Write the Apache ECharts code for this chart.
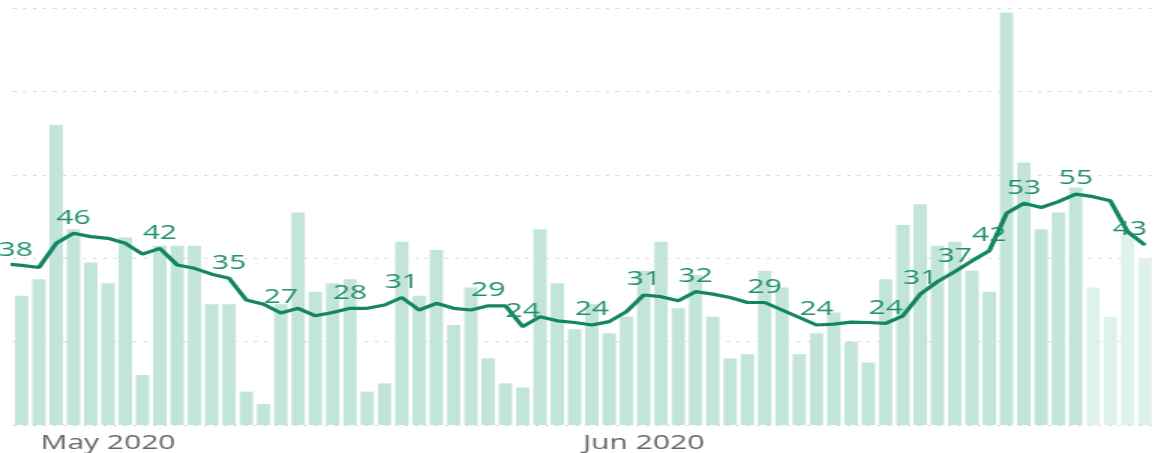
<!DOCTYPE html>
<html>
<head>
<meta charset="utf-8">
<script src="https://cdn.jsdelivr.net/npm/echarts@6/dist/echarts.min.js"></script>
<style>
    html, body { margin: 0; padding: 0; background: #fff; overflow: hidden; }
    /* the reference is stretched sideways, so the chart is drawn narrow and widened */
    #chart { width: 769.33px; height: 453px; transform: scaleX(1.5); transform-origin: 0 0; }
</style>
</head>
<body>
<div id="chart"></div>
<script>
// days shown, 25 Apr 2020 .. 30 Jun 2020 (first one is only reached by the line)
var days = [];
(function () {
    var d = new Date(2020, 3, 25);
    for (var i = 0; i < 67; i++) {
        days.push(d.getFullYear() + '-' + (d.getMonth() + 1) + '-' + d.getDate());
        d.setDate(d.getDate() + 1);
    }
})();

// daily counts
var daily = [null,
    31, 35, 72, 47, 39, 34, 45, 12, 43, 43,
    43, 29, 29, 8, 5, 29, 51, 32, 34, 35,
    8, 10, 44, 31, 42, 24, 33, 16, 10, 9,
    47, 34, 23, 29, 22, 26, 37, 44, 28, 36,
    26, 16, 17, 37, 33, 17, 22, 27, 20, 15,
    35, 48, 53, 43, 44, 37, 32, 99, 63, 47,
    51, 57, 33, 26, 46, 40];

// 7 day average as drawn
var average = [38.7,
    38.3, 37.8, 43.6, 46.0, 45.2, 44.8, 43.6, 41.0, 42.4, 38.4,
    37.6, 36.2, 35.2, 30.0, 29.0, 26.9, 28.0, 26.2, 27.0, 28.0,
    28.0, 28.8, 30.6, 27.6, 29.2, 28.0, 27.6, 28.6, 28.6, 23.6,
    26.0, 25.0, 24.6, 24.0, 24.8, 27.2, 31.2, 30.8, 29.8, 32.0,
    31.4, 30.6, 29.4, 29.4, 27.6, 25.8, 24.0, 24.2, 24.7, 24.6,
    24.4, 26.2, 31.4, 34.4, 36.8, 39.4, 41.8, 50.8, 53.2, 52.2,
    53.6, 55.4, 54.8, 53.8, 46.4, 43.2];

// points of the average that carry a number
var labelled = [1, 4, 9, 13, 16, 20, 23, 28, 30, 34, 37, 40, 44, 47, 51, 53, 55, 57, 59, 62, 66];

// last days still incomplete (lighter bars)
var incompleteFrom = 63;

var monthTicks = [6, 37];
var monthLabels = ['May 2020', 'Jun 2020'];

var barData = [];
for (var i = 1; i < days.length; i++) {
    barData.push({
        value: [i, daily[i]],
        itemStyle: { color: i >= incompleteFrom ? '#dff1ec' : '#c3e4db' }
    });
}

var lineData = [];
for (var j = 0; j < days.length; j++) {
    var item = { value: [j, average[j]] };
    if (labelled.indexOf(j) >= 0) {
        item.label = { show: true };
        if (j == days.length - 1) {
            item.label.offset = [-10, 0];
        }
        if (j == 1) {
            item.label.offset = [-4, 0];
        }
    }
    lineData.push(item);
}

var option = {
    animation: false,
    grid: {
        left: 8.67,
        top: 8.3,
        bottom: 28,
        width: 763.4
    },
    xAxis: {
        type: 'value',
        min: 0.5,
        max: 66.5,
        splitLine: { show: false },
        axisLine: { show: false },
        axisTick: { show: false },
        axisLabel: {
            customValues: monthTicks,
            formatter: function (v) {
                var k = monthTicks.indexOf(v);
                return k >= 0 ? monthLabels[k] : '';
            },
            color: '#666666',
            fontFamily: 'Open Sans',
            fontSize: 20,
            margin: 8
        }
    },
    yAxis: {
        type: 'value',
        min: 0,
        max: 100,
        interval: 20,
        axisLabel: { show: false },
        axisLine: { show: false },
        axisTick: { show: false },
        splitLine: {
            lineStyle: { color: '#d4d4d4', type: [2, 4.7], width: 1 }
        }
    },
    series: [{
        name: 'daily',
        type: 'bar',
        barWidth: 8.9,
        data: barData
    }, {
        name: 'average',
        type: 'line',
        symbol: 'circle',
        symbolSize: 1,
        showSymbol: true,
        lineStyle: { color: '#138563', width: 3.2 },
        itemStyle: { color: '#138563' },
        label: {
            show: false,
            position: 'top',
            distance: 5,
            color: '#1f8e6c',
            fontFamily: 'Open Sans',
            fontSize: 20,
            formatter: function (p) {
                return Math.round(p.value[1]);
            }
        },
        data: lineData
    }]
};

var myChart = echarts.init(document.getElementById('chart'));
myChart.setOption(option);
</script>
</body>
</html>
